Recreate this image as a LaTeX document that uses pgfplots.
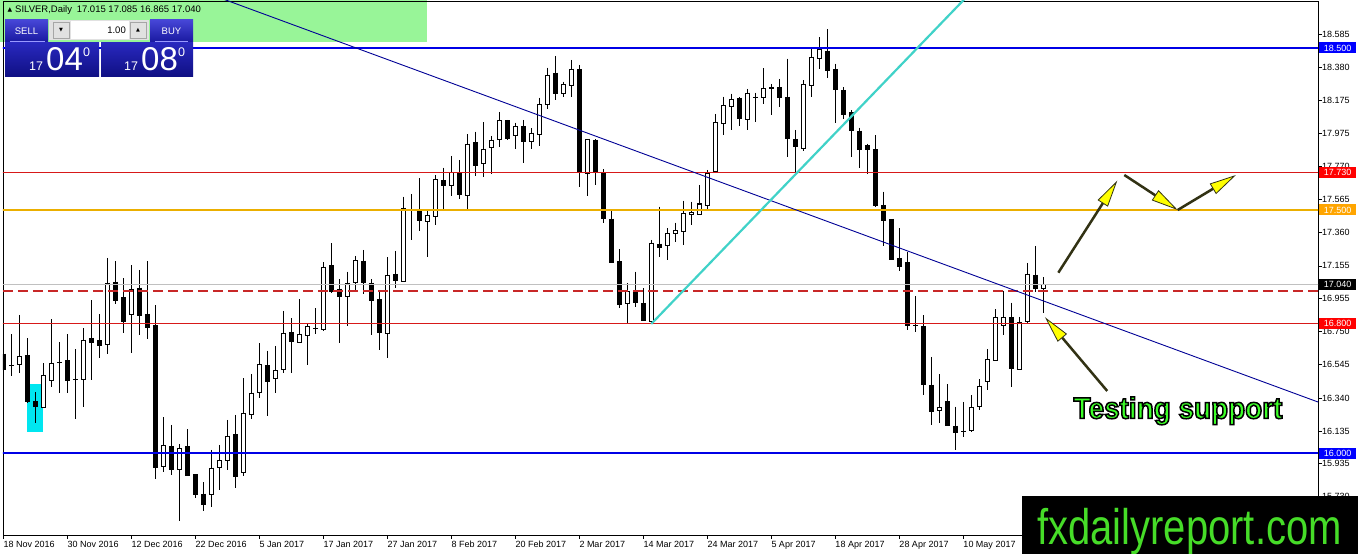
\documentclass[border=0pt]{standalone}
\usepackage{pgfplots}
\pgfplotsset{compat=1.18}
\usepackage{pgfplotstable}
\usepackage{fontspec}
\setmainfont{Liberation Sans}
\newfontfamily\symfont{DejaVu Sans}
\newfontfamily\logofont[FakeStretch=0.80]{Liberation Sans}
\newfontfamily\tsfont[FakeStretch=0.93,FakeBold=5]{Liberation Sans Bold}
\usetikzlibrary{arrows.meta}

\definecolor{mtblue}{RGB}{0,0,230}
\definecolor{mtred}{RGB}{215,25,25}
\definecolor{mtorange}{RGB}{235,175,0}
\definecolor{mtdash}{RGB}{200,40,40}
\definecolor{mtgrey}{RGB}{192,192,192}
\definecolor{trendblue}{RGB}{0,0,150}
\definecolor{trendcyan}{RGB}{64,210,200}
\definecolor{rectcyan}{RGB}{0,230,240}
\definecolor{titlegreen}{RGB}{152,245,152}
\definecolor{arrowdark}{RGB}{50,50,20}
\definecolor{arrowyellow}{RGB}{255,255,0}
\definecolor{txtgreen}{RGB}{60,255,40}
\definecolor{logogreen}{RGB}{70,220,40}
\definecolor{btntop}{RGB}{70,70,215}
\definecolor{btnbot}{RGB}{25,25,160}
\definecolor{boxtop}{RGB}{40,40,190}
\definecolor{boxbot}{RGB}{15,15,130}
\definecolor{lotgrey}{RGB}{225,225,225}
\definecolor{lblblue}{RGB}{0,0,255}
\definecolor{lblred}{RGB}{255,0,0}
\definecolor{lblorange}{RGB}{255,165,0}

\pgfplotstableread{
k O H L C
0 16.611 16.728 16.393 16.516
1 16.541 16.732 16.475 16.541
2 16.547 16.852 16.492 16.595
3 16.603 16.708 16.306 16.317
4 16.317 16.374 16.187 16.288
5 16.282 16.553 16.282 16.479
6 16.449 16.827 16.409 16.553
7 16.560 16.685 16.372 16.560
8 16.568 16.734 16.372 16.446
9 16.451 16.642 16.212 16.451
10 16.453 16.769 16.282 16.697
11 16.708 16.944 16.453 16.681
12 16.693 16.858 16.588 16.662
13 16.671 17.204 16.613 17.049
14 17.055 17.185 16.918 16.944
15 16.957 17.080 16.743 16.811
16 16.856 17.160 16.619 17.010
17 17.018 17.130 16.726 16.848
18 16.858 17.185 16.702 16.776
19 16.784 16.911 15.837 15.911
20 15.918 16.220 15.885 16.047
21 16.041 16.173 15.862 15.899
22 15.899 16.055 15.582 16.027
23 16.039 16.148 15.860 15.864
24 15.865 15.865 15.721 15.741
25 15.747 15.821 15.644 15.680
26 15.741 16.019 15.669 15.906
27 15.910 16.050 15.772 15.951
28 15.951 16.204 15.896 16.105
29 16.112 16.235 15.782 15.854
30 15.879 16.463 15.858 16.241
31 16.239 16.488 16.210 16.369
32 16.373 16.677 16.338 16.544
33 16.538 16.632 16.231 16.441
34 16.461 16.661 16.373 16.507
35 16.513 16.877 16.492 16.739
36 16.745 16.832 16.492 16.688
37 16.681 16.949 16.677 16.733
38 16.727 16.797 16.544 16.780
39 16.768 16.893 16.733 16.768
40 16.764 17.177 16.756 17.147
41 17.155 17.295 16.990 16.996
42 17.011 17.072 16.682 16.965
43 16.965 17.120 16.786 17.048
44 17.054 17.217 17.007 17.188
45 17.184 17.254 16.980 17.054
46 17.048 17.072 16.729 16.941
47 16.945 16.996 16.636 16.743
48 16.739 17.208 16.585 17.097
49 17.103 17.247 17.017 17.064
50 17.058 17.583 17.054 17.511
51 17.500 17.599 17.315 17.500
52 17.490 17.696 17.371 17.435
53 17.428 17.500 17.208 17.469
54 17.459 17.716 17.408 17.686
55 17.679 17.762 17.507 17.651
56 17.651 17.834 17.589 17.731
57 17.727 17.809 17.568 17.593
58 17.589 17.969 17.509 17.906
59 17.918 17.984 17.710 17.774
60 17.784 18.042 17.706 17.875
61 17.885 17.957 17.721 17.932
62 17.937 18.105 17.891 18.052
63 18.050 18.056 17.933 17.939
64 17.961 18.039 17.879 18.014
65 18.015 18.056 17.788 17.922
66 17.920 18.004 17.875 17.974
67 17.967 18.194 17.895 18.149
68 18.149 18.379 18.122 18.332
69 18.344 18.451 18.179 18.221
70 18.216 18.293 18.196 18.272
71 18.266 18.426 18.196 18.369
72 18.365 18.395 17.644 17.731
73 17.723 17.937 17.589 17.937
74 17.932 17.937 17.655 17.737
75 17.731 17.751 17.422 17.449
76 17.443 17.504 17.177 17.177
77 17.179 17.258 16.893 16.918
78 16.920 17.048 16.801 16.996
79 16.996 17.120 16.904 16.930
80 16.924 17.017 16.817 16.817
81 16.811 17.315 16.797 17.295
82 17.290 17.521 17.208 17.270
83 17.278 17.387 17.192 17.356
84 17.352 17.422 17.305 17.373
85 17.367 17.558 17.284 17.476
86 17.470 17.552 17.408 17.484
87 17.474 17.655 17.474 17.537
88 17.529 17.747 17.500 17.723
89 17.737 18.093 17.727 18.041
90 18.035 18.200 17.963 18.142
91 18.141 18.218 17.991 18.183
92 18.191 18.197 18.018 18.063
93 18.059 18.248 17.991 18.222
94 18.197 18.224 18.043 18.197
95 18.197 18.376 18.152 18.248
96 18.257 18.279 18.088 18.249
97 18.253 18.310 18.135 18.193
98 18.197 18.434 17.827 17.940
99 17.936 17.995 17.724 17.893
100 17.882 18.300 17.862 18.275
101 18.269 18.495 18.197 18.444
102 18.438 18.567 18.372 18.491
103 18.481 18.615 18.314 18.362
104 18.368 18.403 18.039 18.242
105 18.238 18.259 18.063 18.088
106 18.100 18.115 17.827 17.991
107 17.987 18.008 17.761 17.872
108 17.895 17.909 17.724 17.874
109 17.872 17.960 17.518 17.528
110 17.528 17.613 17.277 17.434
111 17.442 17.442 17.190 17.195
112 17.201 17.386 17.125 17.150
113 17.177 17.242 16.759 16.790
114 16.784 16.969 16.749 16.784
115 16.779 16.851 16.358 16.425
116 16.419 16.594 16.172 16.255
117 16.265 16.487 16.183 16.279
118 16.316 16.425 16.168 16.172
119 16.166 16.286 16.018 16.127
120 16.135 16.316 16.100 16.135
121 16.137 16.358 16.131 16.281
122 16.290 16.454 16.265 16.413
123 16.440 16.640 16.388 16.578
124 16.574 16.886 16.574 16.837
125 16.790 17.002 16.728 16.837
126 16.837 16.928 16.409 16.522
127 16.516 16.841 16.512 16.806
128 16.810 17.174 16.800 17.104
129 17.098 17.279 16.995 17.016
130 17.015 17.085 16.865 17.040
}\candles

\begin{document}
\begin{tikzpicture}
\useasboundingbox (0pt,0pt) rectangle (1358pt,554pt);
\fill[white] (0pt,0pt) rectangle (1358pt,554pt);
% title bar
\fill[titlegreen] (0pt,554pt) rectangle (427pt,512pt);

\begin{axis}[
  at={(3pt,19pt)}, anchor=south west, scale only axis,
  width=1315pt, height=534pt,
  xmin=-0.04, xmax=164.34, ymin=15.494, ymax=18.790,
  clip mode=individual,
  axis line style={black, line width=0.8pt},
  tick align=outside, major tick length=4pt,
  tick style={black, line width=0.6pt},
  xtick pos=left, ytick pos=right, yticklabel pos=right,
  xtick={0,8,...,120},
  xticklabels={18 Nov 2016,30 Nov 2016,12 Dec 2016,22 Dec 2016,5 Jan 2017,17 Jan 2017,27 Jan 2017,8 Feb 2017,20 Feb 2017,2 Mar 2017,14 Mar 2017,24 Mar 2017,5 Apr 2017,18 Apr 2017,28 Apr 2017,10 May 2017},
  ytick={15.730,15.935,16.135,16.340,16.545,16.750,16.955,17.155,17.360,17.565,17.770,17.975,18.175,18.380,18.585},
  yticklabels={15.730,15.935,16.135,16.340,16.545,16.750,16.955,17.155,17.360,17.565,17.770,17.975,18.175,18.380,18.585},
  xticklabel style={anchor=north west, inner sep=0pt, yshift=-2pt, font=\fontsize{9}{10}\selectfont},
  yticklabel style={anchor=west, inner sep=0pt, font=\fontsize{9}{10}\selectfont},
  unbounded coords=discard,
]
% cyan highlight rectangle
\addplot[fill=rectcyan, draw=none, forget plot] coordinates {(3,16.131) (5,16.131) (5,16.426) (3,16.426)};

% wicks
\addplot[draw=none, mark=none, forget plot,
  error bars/.cd, y dir=minus, y explicit, error mark=none,
  error bar style={draw=black, line width=1pt, solid}]
  table[x=k, y=H, y error minus expr={\thisrow{H}-\thisrow{L}}] {\candles};
% bodies (black outline / full black)
\addplot[draw=none, mark=none, forget plot,
  error bars/.cd, y dir=minus, y explicit, error mark=none,
  error bar style={draw=black, line width=5pt, solid}]
  table[x=k, y expr={max(\thisrow{O},\thisrow{C})+0.0031},
        y error minus expr={abs(\thisrow{O}-\thisrow{C})+0.0062}] {\candles};
% white interiors of bullish candles
\addplot[draw=none, mark=none, forget plot,
  error bars/.cd, y dir=minus, y explicit, error mark=none,
  error bar style={draw=white, line width=3pt, solid}]
  table[x=k, y expr={(\thisrow{C}-\thisrow{O}>0.0124) ? (\thisrow{C}-0.0031) : nan},
        y error minus expr={\thisrow{C}-\thisrow{O}-0.0062}] {\candles};

% horizontal levels
\addplot[mtblue, line width=2pt, forget plot] coordinates {(-1,18.5) (170,18.5)};
\addplot[mtblue, line width=2pt, forget plot] coordinates {(-1,16.0) (170,16.0)};
\addplot[mtred, line width=1pt, forget plot] coordinates {(-1,17.73) (170,17.73)};
\addplot[mtred, line width=1pt, forget plot] coordinates {(-1,16.8) (170,16.8)};
\addplot[mtorange, line width=1.2pt, forget plot] coordinates {(-1,17.5) (170,17.5)};
\addplot[mtgrey, line width=1pt, forget plot] coordinates {(-1,17.04) (170,17.04)};
\addplot[mtdash, line width=1.1pt, dash pattern=on 10pt off 5pt, forget plot] coordinates {(-0.04,17.0) (170,17.0)};

% trend lines
\addplot[trendblue, line width=0.9pt, forget plot] coordinates {(20,18.938) (170,16.212)};
\addplot[trendcyan, line width=2.2pt, forget plot] coordinates {(81,16.797) (125,19.05)};

% arrows
\addplot[arrowdark, line width=2.5pt, forget plot, -{Triangle[length=27pt,width=12pt,fill=arrowyellow,line width=0.8pt]}] coordinates {(131.88,17.113) (139.25,17.681)};
\addplot[arrowdark, line width=2.5pt, forget plot, -{Triangle[length=27pt,width=12pt,fill=arrowyellow,line width=0.8pt]}] coordinates {(140.13,17.716) (146.8,17.5)};
\addplot[arrowdark, line width=2.5pt, forget plot, -{Triangle[length=27pt,width=12pt,fill=arrowyellow,line width=0.8pt]}] coordinates {(146.8,17.5) (154.09,17.716)};
\addplot[arrowdark, line width=2.5pt, forget plot, -{Triangle[length=27pt,width=12pt,fill=arrowyellow,line width=0.8pt]}] coordinates {(137.99,16.383) (130.21,16.838)};

\coordinate (L1) at (axis cs:164.34,18.5);
\coordinate (L2) at (axis cs:164.34,17.73);
\coordinate (L3) at (axis cs:164.34,17.5);
\coordinate (L4) at (axis cs:164.34,17.04);
\coordinate (L5) at (axis cs:164.34,16.8);
\coordinate (L6) at (axis cs:164.34,16.0);
\end{axis}

% price label boxes
\tikzset{lbl/.style={anchor=west, inner sep=0pt, minimum width=37pt, minimum height=11pt, text=white, font=\fontsize{9}{10}\selectfont, xshift=1pt}}
\node[lbl, fill=lblblue] at (L1) {18.500};
\node[lbl, fill=lblred] at (L2) {17.730};
\node[lbl, fill=lblorange] at (L3) {17.500};
\node[lbl, fill=black] at (L4) {17.040};
\node[lbl, fill=lblred] at (L5) {16.800};
\node[lbl, fill=lblblue] at (L6) {16.000};

% title
\node[anchor=center, inner sep=0pt, font=\symfont\fontsize{6}{6}\selectfont] at (10pt,544pt) {▲};
\node[anchor=west, inner sep=0pt, font=\fontsize{9.5}{10}\selectfont] at (15pt,544pt) {SILVER,Daily\enspace 17.015 17.085 16.865 17.040};

% trade panel
\shade[top color=btntop, bottom color=btnbot] (5pt,534pt) rectangle (48pt,512pt);
\shade[top color=btntop, bottom color=btnbot] (150pt,534pt) rectangle (193pt,512pt);
\node[text=white, inner sep=0pt, font=\fontsize{9.5}{10}\selectfont] at (26.5pt,523pt) {SELL};
\node[text=white, inner sep=0pt, font=\fontsize{9.5}{10}\selectfont] at (171.5pt,523pt) {BUY};
\fill[lotgrey] (49pt,534pt) rectangle (149pt,514pt);
\draw[gray!70, line width=0.5pt] (53pt,532pt) rectangle (69pt,516pt);
\draw[gray!70, line width=0.5pt] (130pt,532pt) rectangle (146pt,516pt);
\fill[white] (71pt,533pt) rectangle (129pt,515pt);
\node[inner sep=0pt, font=\symfont\fontsize{5}{5}\selectfont] at (61pt,524pt) {▼};
\node[inner sep=0pt, font=\symfont\fontsize{5}{5}\selectfont] at (138pt,524pt) {▲};
\node[anchor=east, inner sep=0pt, font=\fontsize{9.5}{10}\selectfont] at (126pt,524pt) {1.00};
\shade[top color=boxtop, bottom color=boxbot] (5pt,511pt) rectangle (99pt,477pt);
\shade[top color=boxtop, bottom color=boxbot] (101pt,511pt) rectangle (193pt,477pt);
\draw[blue!40!white, line width=0.6pt] (10pt,512.5pt) -- (45pt,512.5pt);
\draw[blue!40!white, line width=0.6pt] (155pt,512.5pt) -- (188pt,512.5pt);
\node[anchor=base west, inner sep=0pt, text=white, font=\fontsize{12.5}{13}\selectfont] at (29pt,483pt) {17};
\node[anchor=base west, inner sep=0pt, text=white, font=\fontsize{33}{33}\selectfont] at (46pt,483pt) {04};
\node[anchor=base west, inner sep=0pt, text=white, font=\fontsize{12.5}{13}\selectfont] at (83pt,497pt) {0};
\node[anchor=base west, inner sep=0pt, text=white, font=\fontsize{12.5}{13}\selectfont] at (124pt,483pt) {17};
\node[anchor=base west, inner sep=0pt, text=white, font=\fontsize{33}{33}\selectfont] at (141pt,483pt) {08};
\node[anchor=base west, inner sep=0pt, text=white, font=\fontsize{12.5}{13}\selectfont] at (178pt,497pt) {0};

% Testing support: green fill, black stroke (fake-bold stroke set to black)
\node[anchor=base, inner sep=0pt, font=\tsfont\fontsize{30}{30}\selectfont] at (1178pt,135.5pt) {\color{txtgreen}\special{pdf:code 0 0 0 RG}Testing support};

% logo
\fill[black] (1022pt,0pt) rectangle (1358pt,58pt);
\node[anchor=base west, inner sep=0pt, text=logogreen, font=\logofont\fontsize{50}{50}\selectfont] at (1037pt,9pt) {fxdailyreport.com};
\end{tikzpicture}
\end{document}
